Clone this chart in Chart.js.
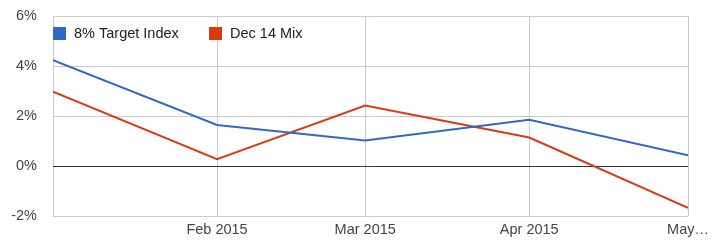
<!DOCTYPE html>
<html>
<head>
<meta charset="utf-8">
<script src="https://cdn.jsdelivr.net/npm/chart.js@4.4.0/dist/chart.umd.min.js"></script>
<style>
  html, body { margin: 0; padding: 0; background: #fff; }
  #wrap { width: 719px; height: 244px; }
</style>
</head>
<body>
<div id="wrap"><canvas id="chart" width="719" height="244"></canvas></div>
<script>
// ---- dados ----
const months = ['2015-01-01', '2015-02-01', '2015-03-01', '2015-04-01', '2015-05-01'];
const monthLabels = ['', 'Feb 2015', 'Mar 2015', 'Apr 2015', 'May…'];
const targetIndex = [4.23, 1.64, 1.02, 1.85, 0.43];
const dec14Mix = [2.97, 0.27, 2.42, 1.14, -1.67];
const yTicks = [-2, 0, 2, 4, 6];

const seriesNames = ['8% Target Index', 'Dec 14 Mix'];
const seriesColors = ['#3366cc', '#dc3912'];

const fontFamily = 'Arial, "Liberation Sans", sans-serif';
const fontSize = 14.5;

// days since first month -> x position (time-like spacing)
const day0 = Date.parse(months[0]);
const dayX = months.map(m => (Date.parse(m) - day0) / 86400000);

function toPoints(values) {
    return values.map((v, i) => ({ x: dayX[i], y: v }));
}

// legend drawn inside the plot, top-left
const insideLegend = {
    id: 'insideLegend',
    afterDraw(chart) {
        const ctx = chart.ctx;
        const area = chart.chartArea;
        const positions = [area.left, area.left + 156];
        ctx.save();
        ctx.font = fontSize + 'px ' + fontFamily;
        ctx.textBaseline = 'middle';
        seriesNames.forEach((name, i) => {
            const x = positions[i];
            const y = area.top + 17;
            ctx.fillStyle = seriesColors[i];
            ctx.fillRect(x, y - 6, 13, 13);
            ctx.fillStyle = '#222';
            ctx.fillText(name, x + 21, y + 1);
        });
        ctx.restore();
    }
};

new Chart(document.getElementById('chart'), {
    type: 'line',
    data: {
        datasets: [{
            label: seriesNames[0],
            data: toPoints(targetIndex),
            borderColor: seriesColors[0],
            backgroundColor: seriesColors[0],
            borderWidth: 2,
            pointRadius: 0,
            tension: 0
        }, {
            label: seriesNames[1],
            data: toPoints(dec14Mix),
            borderColor: seriesColors[1],
            backgroundColor: seriesColors[1],
            borderWidth: 2,
            pointRadius: 0,
            tension: 0
        }]
    },
    options: {
        responsive: false,
        animation: false,
        layout: { padding: { top: 16, right: 31, left: 0, bottom: 0 } },
        plugins: {
            legend: { display: false },
            tooltip: { enabled: false }
        },
        scales: {
            x: {
                type: 'linear',
                min: dayX[0],
                max: dayX[dayX.length - 1],
                afterBuildTicks: axis => { axis.ticks = dayX.map(v => ({ value: v })); },
                afterFit: axis => {
                    axis.height = 28;
                    axis.paddingLeft = 0;
                    axis.paddingRight = 0;
                },
                grid: { color: '#cccccc', drawTicks: false },
                border: { display: false },
                ticks: {
                    padding: 5,
                    color: '#444',
                    maxRotation: 0,
                    autoSkip: false,
                    font: { family: fontFamily, size: fontSize },
                    callback: (v, i) => monthLabels[i]
                }
            },
            y: {
                min: yTicks[0],
                max: yTicks[yTicks.length - 1],
                afterBuildTicks: axis => { axis.ticks = yTicks.map(v => ({ value: v })); },
                afterFit: axis => {
                    axis.width = 53;
                    axis.paddingTop = 0;
                    axis.paddingBottom = 0;
                },
                grid: {
                    drawTicks: false,
                    color: ctx => ctx.tick && ctx.tick.value === 0 ? '#333333' : '#cccccc'
                },
                border: { display: false },
                ticks: {
                    padding: 16,
                    color: '#444',
                    font: { family: fontFamily, size: fontSize },
                    callback: v => v + '%'
                }
            }
        }
    },
    plugins: [insideLegend]
});
</script>
</body>
</html>
